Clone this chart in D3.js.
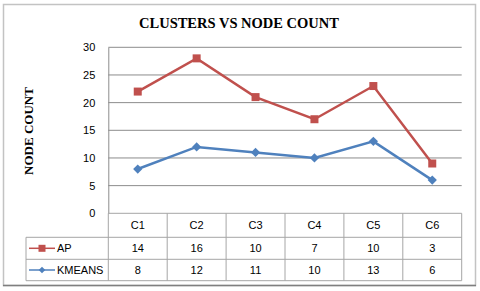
<!DOCTYPE html>
<html>
<head>
<meta charset="utf-8">
<script src="https://cdn.jsdelivr.net/npm/d3@7"></script>
<style>
  body { margin: 0; background: #fff; }
  svg text { font-family: "Liberation Sans", Arial, sans-serif; }
</style>
</head>
<body>
<script>
// chart data
var categories = ["C1", "C2", "C3", "C4", "C5", "C6"];
var apValues = [14, 16, 10, 7, 10, 3];
var kmeansValues = [8, 12, 11, 10, 13, 6];
var yTicks = [0, 5, 10, 15, 20, 25, 30];
var seriesNames = ["AP", "KMEANS"];

var width = 480, height = 291;
var red = "#C0504D", blue = "#4F81BD";
var gridColor = "#8c8c8c", tableColor = "#a6a6a6";

var svg = d3.select("body").append("svg")
    .attr("width", width).attr("height", height);

// outer frame
svg.append("rect")
    .attr("x", 3.5).attr("y", 4.5).attr("width", 472).attr("height", 281)
    .attr("fill", "#fff").attr("stroke", "#c3c3c3").attr("stroke-width", 1.5);
svg.append("line")
    .attr("x1", 3).attr("x2", 476).attr("y1", 285.5).attr("y2", 285.5)
    .attr("stroke", "#7f7f7f").attr("stroke-width", 1.5);

var plotLeft = 108.3, plotRight = 461.7, plotTop = 47.3, plotBottom = 213.3;

var x = d3.scaleBand().domain(categories).range([plotLeft, plotRight]);
var y = d3.scaleLinear().domain([0, 30]).range([plotBottom, plotTop]);

// title
svg.append("text")
    .attr("x", 239).attr("y", 27.5)
    .attr("text-anchor", "middle")
    .style("font-family", "'Liberation Serif', 'Times New Roman', serif")
    .style("font-weight", "bold").style("font-size", "14.5px")
    .text("CLUSTERS VS NODE COUNT");

// y axis title
svg.append("text")
    .attr("transform", "translate(33," + 131 + ") rotate(-90)")
    .attr("text-anchor", "middle")
    .style("font-family", "'Liberation Serif', 'Times New Roman', serif")
    .style("font-weight", "bold").style("font-size", "13px")
    .text("NODE COUNT");

// gridlines
svg.append("g").selectAll("line").data(yTicks.filter(function(d){ return d > 0; }))
  .enter().append("line")
    .attr("x1", plotLeft).attr("x2", plotRight)
    .attr("y1", function(d){ return y(d); }).attr("y2", function(d){ return y(d); })
    .attr("stroke", gridColor).attr("stroke-width", 1);

// y axis
var yAxis = svg.append("g")
    .attr("transform", "translate(" + plotLeft + ",0)")
    .call(d3.axisLeft(y).tickValues(yTicks).tickSize(0).tickPadding(13));
yAxis.select(".domain").attr("stroke", gridColor);
yAxis.selectAll("text").style("font-size", "11px").attr("fill", "#000");

// stacked series (AP sits on top of KMEANS)
var stackedAp = apValues.map(function(v, i){ return v + kmeansValues[i]; });

var line = d3.line()
    .x(function(d, i){ return x(categories[i]) + x.bandwidth() / 2; })
    .y(function(d){ return y(d); });

svg.append("path").datum(kmeansValues)
    .attr("d", line).attr("fill", "none")
    .attr("stroke", blue).attr("stroke-width", 2.5);
svg.append("path").datum(stackedAp)
    .attr("d", line).attr("fill", "none")
    .attr("stroke", red).attr("stroke-width", 2.5);

var diamond = d3.symbol().type(d3.symbolDiamond2).size(55);

svg.append("g").selectAll("path").data(kmeansValues).enter().append("path")
    .attr("d", diamond)
    .attr("transform", function(d, i){
      return "translate(" + (x(categories[i]) + x.bandwidth() / 2) + "," + y(d) + ")";
    })
    .attr("fill", blue);

svg.append("g").selectAll("rect").data(stackedAp).enter().append("rect")
    .attr("x", function(d, i){ return x(categories[i]) + x.bandwidth() / 2 - 4; })
    .attr("y", function(d){ return y(d) - 4; })
    .attr("width", 8).attr("height", 8)
    .attr("fill", red);

// data table
var rowY = [plotBottom, 237.3, 259.3, 280.7];
var legendLeft = 26;
var table = svg.append("g").attr("stroke", tableColor).attr("stroke-width", 1);

table.append("line")
    .attr("x1", plotLeft).attr("x2", plotRight)
    .attr("y1", rowY[0]).attr("y2", rowY[0]);
rowY.slice(1).forEach(function(ry){
  table.append("line")
      .attr("x1", legendLeft).attr("x2", plotRight)
      .attr("y1", ry).attr("y2", ry);
});
x.domain().forEach(function(c){
  table.append("line")
      .attr("x1", x(c) + x.bandwidth()).attr("x2", x(c) + x.bandwidth())
      .attr("y1", rowY[0]).attr("y2", rowY[3]);
});
table.append("line")
    .attr("x1", plotLeft).attr("x2", plotLeft)
    .attr("y1", rowY[0]).attr("y2", rowY[3]);
table.append("line")
    .attr("x1", legendLeft).attr("x2", legendLeft)
    .attr("y1", rowY[1]).attr("y2", rowY[3]);

function cellText(txt, cx, cy){
  svg.append("text")
      .attr("x", cx).attr("y", cy).attr("dy", "0.35em")
      .attr("text-anchor", "middle")
      .style("font-size", "11px")
      .text(txt);
}

categories.forEach(function(c, i){
  var cx = x(c) + x.bandwidth() / 2;
  cellText(c, cx, (rowY[0] + rowY[1]) / 2);
  cellText(apValues[i], cx, (rowY[1] + rowY[2]) / 2);
  cellText(kmeansValues[i], cx, (rowY[2] + rowY[3]) / 2);
});

// legend keys in table
var legendColors = [red, blue];
seriesNames.forEach(function(name, i){
  var cy = (rowY[i + 1] + rowY[i + 2]) / 2;
  svg.append("line")
      .attr("x1", 29).attr("x2", 55).attr("y1", cy).attr("y2", cy)
      .attr("stroke", legendColors[i]).attr("stroke-width", 1.5);
  if (i === 0) {
    svg.append("rect")
        .attr("x", 38.5).attr("y", cy - 3.5).attr("width", 7).attr("height", 7)
        .attr("fill", red);
  } else {
    svg.append("path")
        .attr("d", d3.symbol().type(d3.symbolDiamond2).size(28))
        .attr("transform", "translate(42," + cy + ")")
        .attr("fill", blue);
  }
  svg.append("text")
      .attr("x", 57).attr("y", cy).attr("dy", "0.35em")
      .style("font-size", "11px")
      .text(name);
});
</script>
</body>
</html>
